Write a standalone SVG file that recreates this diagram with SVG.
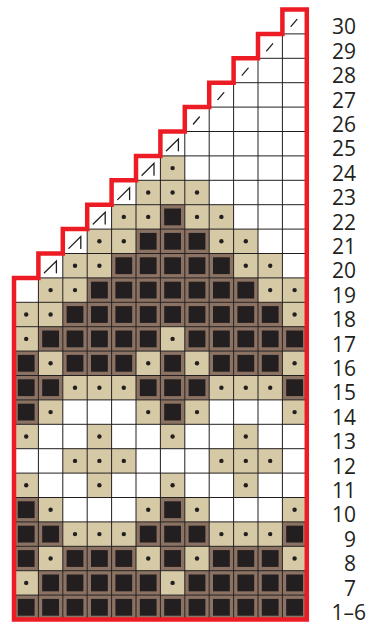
<svg xmlns="http://www.w3.org/2000/svg" xmlns:xlink="http://www.w3.org/1999/xlink" width="369" height="625" viewBox="0 0 369 625">
<style>
.lbl{font-family:"Open Sans","Liberation Sans",sans-serif;font-size:21px;fill:#231F20;text-anchor:end}
.grid{stroke:#231F20;stroke-width:1;fill:none}
.mark{stroke:#231F20;stroke-width:1.3;fill:none;stroke-linecap:round;stroke-linejoin:miter}
.outline{stroke:#ED1C24;stroke-width:4.5;fill:none;stroke-linejoin:miter}
</style>
<defs>
<g id="t"><rect width="24.4" height="24.4" fill="#D6CAA6"/><circle cx="12.2" cy="12.2" r="2.2" fill="#231F20"/></g>
<g id="b"><rect width="24.4" height="24.4" fill="#8B7262"/><rect x="3.8" y="3.8" width="16.8" height="16.8" fill="#231F20"/></g>
<path id="s" class="mark" d="M8.6 16.9 L14.6 9.9"/>
<path id="a" class="mark" d="M6 19.3 L18 7.5 V19.3"/>
</defs>
<rect width="369" height="625" fill="#FFFFFF"/>
<g id="cells">
<g id="r30"><use href="#s" x="282.4" y="9.5"/></g>
<g id="r29"><use href="#s" x="258" y="33.9"/></g>
<g id="r28"><use href="#s" x="233.6" y="58.3"/></g>
<g id="r27"><use href="#s" x="209.2" y="82.7"/></g>
<g id="r26"><use href="#s" x="184.8" y="107.1"/></g>
<g id="r25"><use href="#a" x="160.4" y="131.5"/></g>
<g id="r24"><use href="#a" x="136" y="155.9"/><use href="#t" x="160.4" y="155.9"/></g>
<g id="r23"><use href="#a" x="111.6" y="180.3"/><use href="#t" x="136" y="180.3"/><use href="#t" x="160.4" y="180.3"/><use href="#t" x="184.8" y="180.3"/></g>
<g id="r22"><use href="#a" x="87.2" y="204.7"/><use href="#t" x="111.6" y="204.7"/><use href="#t" x="136" y="204.7"/><use href="#b" x="160.4" y="204.7"/><use href="#t" x="184.8" y="204.7"/><use href="#t" x="209.2" y="204.7"/></g>
<g id="r21"><use href="#a" x="62.8" y="229.1"/><use href="#t" x="87.2" y="229.1"/><use href="#t" x="111.6" y="229.1"/><use href="#b" x="136" y="229.1"/><use href="#b" x="160.4" y="229.1"/><use href="#b" x="184.8" y="229.1"/><use href="#t" x="209.2" y="229.1"/><use href="#t" x="233.6" y="229.1"/></g>
<g id="r20"><use href="#a" x="38.4" y="253.5"/><use href="#t" x="62.8" y="253.5"/><use href="#t" x="87.2" y="253.5"/><use href="#b" x="111.6" y="253.5"/><use href="#b" x="136" y="253.5"/><use href="#b" x="160.4" y="253.5"/><use href="#b" x="184.8" y="253.5"/><use href="#b" x="209.2" y="253.5"/><use href="#t" x="233.6" y="253.5"/><use href="#t" x="258" y="253.5"/></g>
<g id="r19"><use href="#t" x="38.4" y="277.9"/><use href="#t" x="62.8" y="277.9"/><use href="#b" x="87.2" y="277.9"/><use href="#b" x="111.6" y="277.9"/><use href="#b" x="136" y="277.9"/><use href="#b" x="160.4" y="277.9"/><use href="#b" x="184.8" y="277.9"/><use href="#b" x="209.2" y="277.9"/><use href="#b" x="233.6" y="277.9"/><use href="#t" x="258" y="277.9"/><use href="#t" x="282.4" y="277.9"/></g>
<g id="r18"><use href="#t" x="14" y="302.3"/><use href="#t" x="38.4" y="302.3"/><use href="#b" x="62.8" y="302.3"/><use href="#b" x="87.2" y="302.3"/><use href="#b" x="111.6" y="302.3"/><use href="#b" x="136" y="302.3"/><use href="#b" x="160.4" y="302.3"/><use href="#b" x="184.8" y="302.3"/><use href="#b" x="209.2" y="302.3"/><use href="#b" x="233.6" y="302.3"/><use href="#b" x="258" y="302.3"/><use href="#t" x="282.4" y="302.3"/></g>
<g id="r17"><use href="#t" x="14" y="326.7"/><use href="#b" x="38.4" y="326.7"/><use href="#b" x="62.8" y="326.7"/><use href="#b" x="87.2" y="326.7"/><use href="#b" x="111.6" y="326.7"/><use href="#b" x="136" y="326.7"/><use href="#t" x="160.4" y="326.7"/><use href="#b" x="184.8" y="326.7"/><use href="#b" x="209.2" y="326.7"/><use href="#b" x="233.6" y="326.7"/><use href="#b" x="258" y="326.7"/><use href="#b" x="282.4" y="326.7"/></g>
<g id="r16"><use href="#b" x="14" y="351.1"/><use href="#t" x="38.4" y="351.1"/><use href="#b" x="62.8" y="351.1"/><use href="#b" x="87.2" y="351.1"/><use href="#b" x="111.6" y="351.1"/><use href="#t" x="136" y="351.1"/><use href="#b" x="160.4" y="351.1"/><use href="#t" x="184.8" y="351.1"/><use href="#b" x="209.2" y="351.1"/><use href="#b" x="233.6" y="351.1"/><use href="#b" x="258" y="351.1"/><use href="#t" x="282.4" y="351.1"/></g>
<g id="r15"><use href="#b" x="14" y="375.5"/><use href="#b" x="38.4" y="375.5"/><use href="#t" x="62.8" y="375.5"/><use href="#t" x="87.2" y="375.5"/><use href="#t" x="111.6" y="375.5"/><use href="#b" x="136" y="375.5"/><use href="#b" x="160.4" y="375.5"/><use href="#b" x="184.8" y="375.5"/><use href="#t" x="209.2" y="375.5"/><use href="#t" x="233.6" y="375.5"/><use href="#t" x="258" y="375.5"/><use href="#b" x="282.4" y="375.5"/></g>
<g id="r14"><use href="#b" x="14" y="399.9"/><use href="#t" x="38.4" y="399.9"/><use href="#t" x="136" y="399.9"/><use href="#b" x="160.4" y="399.9"/><use href="#t" x="184.8" y="399.9"/><use href="#t" x="282.4" y="399.9"/></g>
<g id="r13"><use href="#t" x="14" y="424.3"/><use href="#t" x="87.2" y="424.3"/><use href="#t" x="160.4" y="424.3"/><use href="#t" x="233.6" y="424.3"/></g>
<g id="r12"><use href="#t" x="62.8" y="448.7"/><use href="#t" x="87.2" y="448.7"/><use href="#t" x="111.6" y="448.7"/><use href="#t" x="209.2" y="448.7"/><use href="#t" x="233.6" y="448.7"/><use href="#t" x="258" y="448.7"/></g>
<g id="r11"><use href="#t" x="14" y="473.1"/><use href="#t" x="87.2" y="473.1"/><use href="#t" x="160.4" y="473.1"/><use href="#t" x="233.6" y="473.1"/></g>
<g id="r10"><use href="#b" x="14" y="497.5"/><use href="#t" x="38.4" y="497.5"/><use href="#t" x="136" y="497.5"/><use href="#b" x="160.4" y="497.5"/><use href="#t" x="184.8" y="497.5"/><use href="#t" x="282.4" y="497.5"/></g>
<g id="r9"><use href="#b" x="14" y="521.9"/><use href="#b" x="38.4" y="521.9"/><use href="#t" x="62.8" y="521.9"/><use href="#t" x="87.2" y="521.9"/><use href="#t" x="111.6" y="521.9"/><use href="#b" x="136" y="521.9"/><use href="#b" x="160.4" y="521.9"/><use href="#b" x="184.8" y="521.9"/><use href="#t" x="209.2" y="521.9"/><use href="#t" x="233.6" y="521.9"/><use href="#t" x="258" y="521.9"/><use href="#b" x="282.4" y="521.9"/></g>
<g id="r8"><use href="#b" x="14" y="546.3"/><use href="#t" x="38.4" y="546.3"/><use href="#b" x="62.8" y="546.3"/><use href="#b" x="87.2" y="546.3"/><use href="#b" x="111.6" y="546.3"/><use href="#t" x="136" y="546.3"/><use href="#b" x="160.4" y="546.3"/><use href="#t" x="184.8" y="546.3"/><use href="#b" x="209.2" y="546.3"/><use href="#b" x="233.6" y="546.3"/><use href="#b" x="258" y="546.3"/><use href="#t" x="282.4" y="546.3"/></g>
<g id="r7"><use href="#t" x="14" y="570.7"/><use href="#b" x="38.4" y="570.7"/><use href="#b" x="62.8" y="570.7"/><use href="#b" x="87.2" y="570.7"/><use href="#b" x="111.6" y="570.7"/><use href="#b" x="136" y="570.7"/><use href="#t" x="160.4" y="570.7"/><use href="#b" x="184.8" y="570.7"/><use href="#b" x="209.2" y="570.7"/><use href="#b" x="233.6" y="570.7"/><use href="#b" x="258" y="570.7"/><use href="#b" x="282.4" y="570.7"/></g>
<g id="r1-6"><use href="#b" x="14" y="595.1"/><use href="#b" x="38.4" y="595.1"/><use href="#b" x="62.8" y="595.1"/><use href="#b" x="87.2" y="595.1"/><use href="#b" x="111.6" y="595.1"/><use href="#b" x="136" y="595.1"/><use href="#b" x="160.4" y="595.1"/><use href="#b" x="184.8" y="595.1"/><use href="#b" x="209.2" y="595.1"/><use href="#b" x="233.6" y="595.1"/><use href="#b" x="258" y="595.1"/><use href="#b" x="282.4" y="595.1"/></g>
</g>
<g id="gridlines" class="grid">
<path d="M258 33.9H306.8M233.6 58.3H306.8M209.2 82.7H306.8M184.8 107.1H306.8M160.4 131.5H306.8M136 155.9H306.8M111.6 180.3H306.8M87.2 204.7H306.8M62.8 229.1H306.8M38.4 253.5H306.8M14 277.9H306.8M14 302.3H306.8M14 326.7H306.8M14 351.1H306.8M14 375.5H306.8M14 399.9H306.8M14 424.3H306.8M14 448.7H306.8M14 473.1H306.8M14 497.5H306.8M14 521.9H306.8M14 546.3H306.8M14 570.7H306.8M14 595.1H306.8"/>
<path d="M38.4 253.5V619.5M62.8 229.1V619.5M87.2 204.7V619.5M111.6 180.3V619.5M136 155.9V619.5M160.4 131.5V619.5M184.8 107.1V619.5M209.2 82.7V619.5M233.6 58.3V619.5M258 33.9V619.5M282.4 9.5V619.5"/>
</g>
<g id="outline">
<path class="outline" d="M282.4 9.5H306.8V619.5H14V277.9H38.4V253.5H62.8V229.1H87.2V204.7H111.6V180.3H136V155.9H160.4V131.5H184.8V107.1H209.2V82.7H233.6V58.3H258V33.9H282.4Z"/>
</g>
<g id="labels">
<text class="lbl" x="356" y="34.4">30</text>
<text class="lbl" x="356" y="58.8">29</text>
<text class="lbl" x="356" y="83.2">28</text>
<text class="lbl" x="356" y="107.6">27</text>
<text class="lbl" x="356" y="132">26</text>
<text class="lbl" x="356" y="156.4">25</text>
<text class="lbl" x="356" y="180.8">24</text>
<text class="lbl" x="356" y="205.2">23</text>
<text class="lbl" x="356" y="229.6">22</text>
<text class="lbl" x="356" y="254">21</text>
<text class="lbl" x="356" y="278.4">20</text>
<text class="lbl" x="356" y="302.8">19</text>
<text class="lbl" x="356" y="327.2">18</text>
<text class="lbl" x="356" y="351.6">17</text>
<text class="lbl" x="356" y="376">16</text>
<text class="lbl" x="356" y="400.4">15</text>
<text class="lbl" x="356" y="424.8">14</text>
<text class="lbl" x="356" y="449.2">13</text>
<text class="lbl" x="356" y="473.6">12</text>
<text class="lbl" x="356" y="498">11</text>
<text class="lbl" x="356" y="522.4">10</text>
<text class="lbl" x="356" y="546.8">9</text>
<text class="lbl" x="356" y="571.2">8</text>
<text class="lbl" x="356" y="595.6">7</text>
<text class="lbl" x="366" y="620">1–6</text>
</g>
</svg>
